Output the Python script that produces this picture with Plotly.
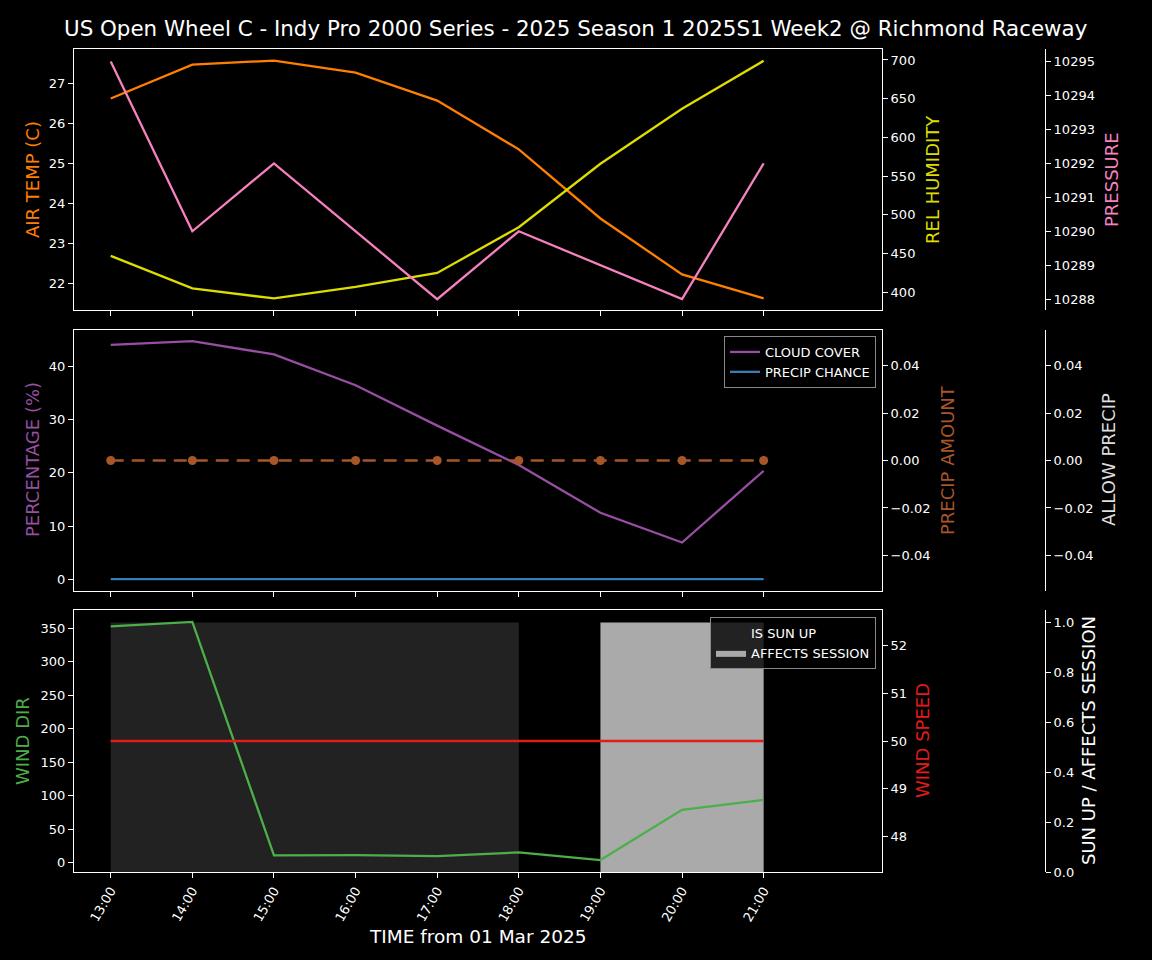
import plotly.graph_objects as go

# ---------------- data ----------------
times = ["2025-03-01 13:00", "2025-03-01 14:00", "2025-03-01 15:00", "2025-03-01 16:00",
         "2025-03-01 17:00", "2025-03-01 18:00", "2025-03-01 19:00", "2025-03-01 20:00",
         "2025-03-01 21:00"]
tick_labels = ["13:00", "14:00", "15:00", "16:00", "17:00", "18:00", "19:00", "20:00", "21:00"]

air_temp = [26.62, 27.47, 27.57, 27.27, 26.57, 25.35, 23.62, 22.22, 21.62]
rel_humidity = [447, 405, 392, 407, 425, 484, 566, 637, 699]
pressure = [10295, 10290, 10292, 10290, 10288, 10290, 10289, 10288, 10292]

cloud_cover = [44.1, 44.8, 42.3, 36.5, 28.9, 21.5, 12.5, 6.9, 20.4]
precip_chance = [0, 0, 0, 0, 0, 0, 0, 0, 0]
precip_amount = [0, 0, 0, 0, 0, 0, 0, 0, 0]

wind_dir = [353, 359.6, 11, 11.5, 10, 15.5, 4, 79, 93.8]
wind_speed = [50, 50, 50, 50, 50, 50, 50, 50, 50]
is_sun_up = [1, 1, 1, 1, 1, 1, 0, 0, 0]
affects_session = [0, 0, 0, 0, 0, 0, 1, 1, 1]

TITLE = "US Open Wheel C - Indy Pro 2000 Series - 2025 Season 1 2025S1 Week2 @ Richmond Raceway"

# ---------------- style ----------------
W, H = 1152, 960
H_EFF = 952  # vertical extent observed in the rendered page
FONT = "DejaVu Sans"
C_TEMP = "#ff7f00"
C_HUM = "#dddd00"
C_PRES = "#f781bf"
C_CLOUD = "#984ea3"
C_PCHANCE = "#377eb8"
C_PAMT = "#a65628"
C_WDIR = "#4daf4a"
C_WSPD = "#e41a1c"
C_SUN = "#222222"
C_AFF = "#aaaaaa"

def px_x(p):
    return p / W

def px_y(p):
    return 1 - p / H_EFF

XL, XR = px_x(74), px_x(882)
XFREE = px_x(1045)
D1 = [px_y(310), px_y(49)]
D2 = [px_y(591), px_y(330)]
D3 = [px_y(872), px_y(610)]

def mask(vals, flags):
    return [v if f else None for v, f in zip(vals, flags)]

fig = go.Figure()

LW = 2.3

# panel 1
fig.add_trace(go.Scatter(x=times, y=air_temp, mode="lines", line=dict(color=C_TEMP, width=LW),
                         xaxis="x", yaxis="y", showlegend=False))
fig.add_trace(go.Scatter(x=times, y=rel_humidity, mode="lines", line=dict(color=C_HUM, width=LW),
                         xaxis="x", yaxis="y2", showlegend=False))
fig.add_trace(go.Scatter(x=times, y=pressure, mode="lines", line=dict(color=C_PRES, width=LW),
                         xaxis="x", yaxis="y3", showlegend=False))

# panel 2
fig.add_trace(go.Scatter(x=times, y=cloud_cover, mode="lines", line=dict(color=C_CLOUD, width=LW),
                         name="CLOUD COVER", xaxis="x2", yaxis="y4", legend="legend"))
fig.add_trace(go.Scatter(x=times, y=precip_chance, mode="lines", line=dict(color=C_PCHANCE, width=LW),
                         name="PRECIP CHANCE", xaxis="x2", yaxis="y4", legend="legend"))
fig.add_trace(go.Scatter(x=times, y=precip_amount, mode="lines+markers",
                         line=dict(color=C_PAMT, width=LW, dash="13px,8px"),
                         marker=dict(color=C_PAMT, size=9),
                         xaxis="x2", yaxis="y5", showlegend=False))
fig.add_trace(go.Scatter(x=[], y=[], mode="lines", xaxis="x2", yaxis="y6", showlegend=False))

# panel 3 (base axis = sun/affects so the fills sit behind the lines)
fig.add_trace(go.Scatter(x=times, y=mask(is_sun_up, is_sun_up), mode="lines", fill="tozeroy",
                         fillcolor=C_SUN, line=dict(width=0, color=C_SUN), name="IS SUN UP",
                         xaxis="x3", yaxis="y7", legend="legend2"))
fig.add_trace(go.Scatter(x=times, y=mask(affects_session, affects_session), mode="lines", fill="tozeroy",
                         fillcolor=C_AFF, line=dict(width=0, color=C_AFF), name="AFFECTS SESSION",
                         xaxis="x3", yaxis="y7", legend="legend2"))
fig.add_trace(go.Scatter(x=times, y=wind_dir, mode="lines", line=dict(color=C_WDIR, width=LW),
                         xaxis="x3", yaxis="y8", showlegend=False))
fig.add_trace(go.Scatter(x=times, y=wind_speed, mode="lines", line=dict(color=C_WSPD, width=LW),
                         xaxis="x3", yaxis="y9", showlegend=False))

tickfont = dict(family=FONT, size=13, color="white")
common = dict(showgrid=False, zeroline=False, ticks="outside", ticklen=5, tickwidth=1,
              tickcolor="white", tickfont=tickfont, linecolor="white", linewidth=1)

xrange_ = ["2025-03-01 12:33", "2025-03-01 22:27"]
xcommon = dict(common, range=xrange_, tickvals=times, ticktext=tick_labels, showline=True,
               mirror=True, domain=[XL, XR], type="date")

fig.update_layout(
    width=W, height=H,
    paper_bgcolor="black", plot_bgcolor="black",
    margin=dict(l=0, r=0, t=0, b=0),
    font=dict(family=FONT, color="white"),
    xaxis=dict(xcommon, anchor="y", showticklabels=False),
    xaxis2=dict(xcommon, anchor="y4", matches="x", showticklabels=False),
    xaxis3=dict(xcommon, anchor="y7", matches="x", showticklabels=True, tickangle=-60),
    yaxis=dict(common, domain=D1, anchor="x", side="left", showline=True,
               range=[21.33, 27.86], dtick=1),
    yaxis2=dict(common, overlaying="y", anchor="x", side="right", showline=True,
                range=[377.1, 714.2], dtick=50),
    yaxis3=dict(common, overlaying="y", anchor="free", position=XFREE, side="right",
                showline=True, range=[10287.68, 10295.37], dtick=1, tickformat="d"),
    yaxis4=dict(common, domain=D2, anchor="x2", side="left", showline=True,
                range=[-2.23, 46.9], dtick=10),
    yaxis5=dict(common, overlaying="y4", anchor="x2", side="right", showline=True,
                range=[-0.055, 0.055], dtick=0.02, tickformat=".2f"),
    yaxis6=dict(common, overlaying="y4", anchor="free", position=XFREE, side="right",
                showline=True, range=[-0.055, 0.055], dtick=0.02, tickformat=".2f"),
    yaxis7=dict(common, domain=D3, anchor="free", position=XFREE, side="right",
                showline=True, range=[0, 1.05], dtick=0.2, tickformat=".1f"),
    yaxis8=dict(common, overlaying="y7", anchor="x3", side="left", showline=True,
                range=[-13.8, 377.4], dtick=50),
    yaxis9=dict(common, overlaying="y7", anchor="x3", side="right", showline=True,
                range=[47.25, 52.75], dtick=1),
    legend=dict(x=px_x(876), y=px_y(336), xanchor="right", yanchor="top",
                bgcolor="rgba(0,0,0,0.8)", bordercolor="#888888", borderwidth=1,
                font=dict(family=FONT, size=13, color="white")),
    legend2=dict(x=px_x(876), y=px_y(617), xanchor="right", yanchor="top",
                 bgcolor="rgba(0,0,0,0.8)", bordercolor="#888888", borderwidth=1,
                 font=dict(family=FONT, size=13, color="white")),
)

def label(text, xp, yp, color, size=18, angle=-90):
    fig.add_annotation(text=text, x=px_x(xp), y=px_y(yp), xref="paper", yref="paper",
                       showarrow=False, textangle=angle, xanchor="center", yanchor="middle",
                       font=dict(family=FONT, size=size, color=color))

label("AIR TEMP (C)", 32, 180, C_TEMP)
label("REL HUMIDITY", 932, 180, C_HUM)
label("PRESSURE", 1111, 180, C_PRES)
label("PERCENTAGE (%)", 32, 460, C_CLOUD)
label("PRECIP AMOUNT", 947, 460, C_PAMT)
label("ALLOW PRECIP", 1108, 460, "#dddddd")
label("WIND DIR", 22, 741, C_WDIR)
label("WIND SPEED", 922, 741, C_WSPD)
label("SUN UP / AFFECTS SESSION", 1088, 741, "white")
label("TIME from 01 Mar 2025", 478, 936, "white", size=18.5, angle=0)
label(TITLE, 576, 28, "white", size=21.4, angle=0)

page_fix = (
    "var d=document.documentElement,b=document.body;"
    "d.style.margin='0';d.style.padding='0';d.style.background='black';"
    "d.style.overflow='hidden';d.style.height='960px';"
    "b.style.margin='0';b.style.padding='0';b.style.background='black';"
    "b.style.overflow='hidden';b.style.height='960px';"
)

fig.write_html("out.html", config={"displayModeBar": False}, post_script=page_fix)
